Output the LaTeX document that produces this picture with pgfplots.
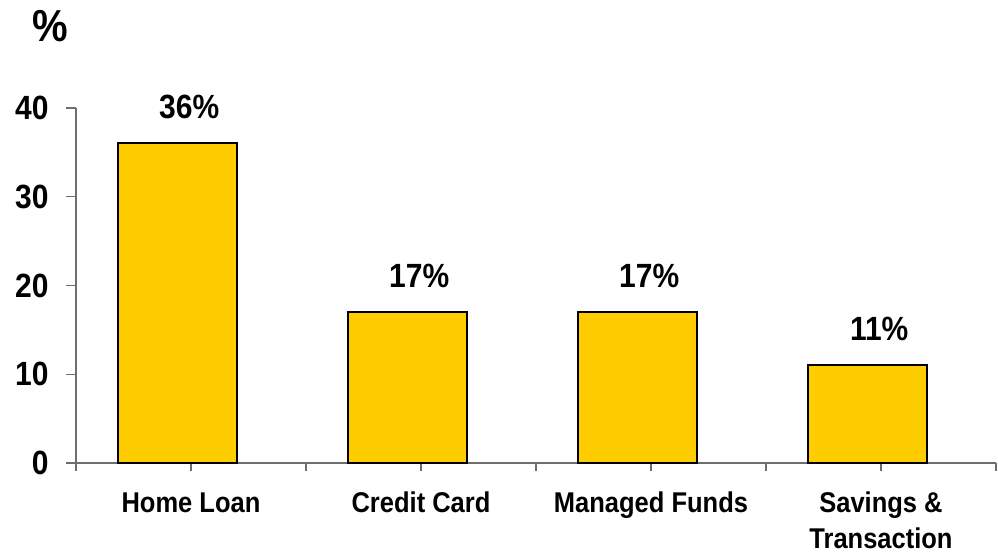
\documentclass[border=0pt]{standalone}
\usepackage{graphicx}
\usepackage{pgfplots}
\pgfplotsset{compat=1.18}
\usepackage{fontspec}
\setmainfont{Liberation Sans}
\definecolor{baryellow}{HTML}{FFCC00}
\definecolor{axisgray}{HTML}{6E6E6E}
\newcommand\st[1]{\scalebox{1}[1.12]{#1}}
\begin{document}
\begin{tikzpicture}
\begin{axis}[
  scale only axis,
  width=920bp, height=355bp,
  xmin=0, xmax=4, ymin=0, ymax=40,
  axis x line=bottom, axis y line=left,
  axis line style={axisgray, line width=1.2bp, -},
  x axis line style={shorten <=-10bp},
  xtick={0,1,2,3,4}, xticklabels={},
  major x tick style={axisgray, line width=1.2bp},
  ytick={0,10,20,30,40},
  yticklabel={\st{\pgfmathprintnumber{\tick}}},
  major y tick style={axisgray, line width=1.2bp},
  tick align=outside,
  major tick length=10bp,
  xtick style={/pgfplots/major tick length=8bp},
  extra x ticks={0.5,1.5,2.5,3.5},
  extra x tick labels={\st{Home Loan},\st{Credit Card},\st{Managed Funds},{\begin{tabular}[t]{@{}c@{}}\st{Savings \&}\\\st{Transaction}\end{tabular}}},
  extra x tick style={major tick length=0pt, tick label style={anchor=base, yshift=-49bp}},
  x tick label style={font=\fontsize{25.5bp}{36bp}\selectfont\bfseries},
  y tick label style={font=\fontsize{30bp}{36bp}\selectfont\bfseries, xshift=-14bp},
  /pgf/number format/assume math mode=true,
  ybar, bar width=119bp, bar shift=0pt,
  clip=false,
  nodes near coords={\st{\pgfmathprintnumber{\pgfplotspointmeta}\%}},
  nodes near coords style={font=\fontsize{30bp}{36bp}\selectfont\bfseries, xshift=12bp, yshift=20bp},
]
\addplot[fill=baryellow, draw=black, line width=2bp] coordinates {(0.44,36) (1.44,17) (2.44,17) (3.44,11)};
\node[font=\fontsize{40bp}{48bp}\selectfont\bfseries] at ([shift={(-26bp,82bp)}]rel axis cs:0,1) {\st{\%}};
\end{axis}
\pgfresetboundingbox
\path[use as bounding box] ([shift={(-76bp,-93bp)}]current axis.south west) rectangle ([shift={(922bp,463bp)}]current axis.south west);
\end{tikzpicture}
\end{document}
